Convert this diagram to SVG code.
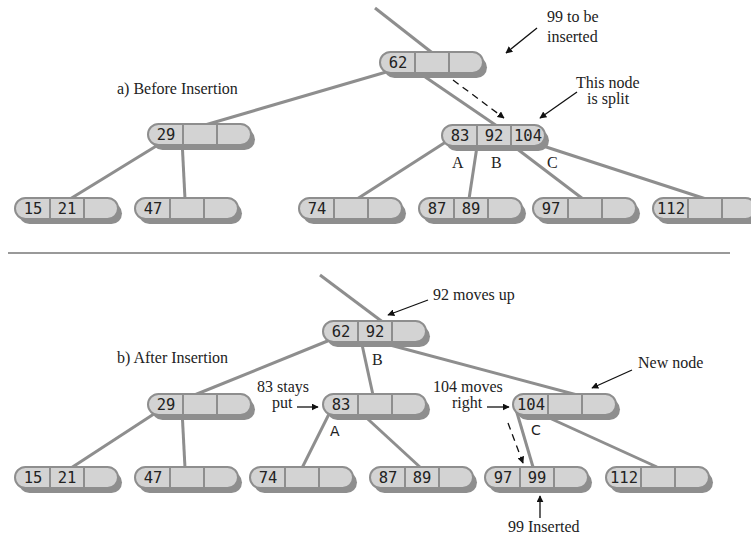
<svg xmlns="http://www.w3.org/2000/svg" xmlns:xlink="http://www.w3.org/1999/xlink" width="751" height="535" viewBox="0 0 751 535">
<style>
.shadow{fill:#8e8e8e}
.body{fill:#d3d3d3;stroke:#8e8e8e;stroke-width:2}
.div{stroke:#8e8e8e;stroke-width:2}
.key{font-family:"DejaVu Sans Mono",monospace;font-size:15.5px;fill:#222;text-anchor:middle}
.conn line{stroke:#8e8e8e;stroke-width:3;stroke-linecap:butt}
.anns line{stroke:#111;stroke-width:1.3;fill:none;marker-end:url(#ah)}
.anns line.dash{stroke-dasharray:7,5}
.lbl{font-family:"Liberation Serif","Times New Roman",serif;font-size:16px;fill:#222}
.sl{font-family:"DejaVu Sans",sans-serif;font-size:14px;fill:#222}
</style>
<defs>
<marker id="ah" viewBox="0 0 10 10" refX="9" refY="5" markerWidth="7" markerHeight="7" markerUnits="userSpaceOnUse" orient="auto">
<path d="M0,0 L10,5 L0,10 Z" fill="#111"/>
</marker>
<g id="pill">
<rect x="4" y="5" width="103" height="21" rx="10.5" class="shadow"/>
<rect x="0" y="0" width="103" height="21" rx="10.5" class="body"/>
<line x1="35" y1="0" x2="35" y2="21" class="div"/>
<line x1="69" y1="0" x2="69" y2="21" class="div"/>
</g>
</defs>
<rect width="751" height="535" fill="#fff"/>
<line x1="8" y1="253" x2="730" y2="253" stroke="#999" stroke-width="2"/>
<g id="connectors" class="conn">
<line x1="375" y1="8" x2="435" y2="55"/>
<line x1="400" y1="68" x2="205" y2="125"/>
<line x1="415" y1="70" x2="497" y2="126"/>
<line x1="166" y1="140" x2="70" y2="199"/>
<line x1="182" y1="140" x2="185" y2="199"/>
<line x1="452" y1="138" x2="357" y2="199"/>
<line x1="478" y1="140" x2="469" y2="199"/>
<line x1="512" y1="145" x2="583" y2="199"/>
<line x1="540" y1="145" x2="706" y2="199"/>
<line x1="320" y1="275" x2="384" y2="323"/>
<line x1="330" y1="340" x2="192" y2="396"/>
<line x1="361" y1="340" x2="373" y2="395"/>
<line x1="390" y1="345" x2="581" y2="396"/>
<line x1="160" y1="410" x2="71" y2="468"/>
<line x1="182" y1="410" x2="185" y2="468"/>
<line x1="332" y1="408" x2="302" y2="468"/>
<line x1="358" y1="410" x2="421" y2="468"/>
<line x1="515" y1="406" x2="533" y2="467"/>
<line x1="545" y1="416" x2="657" y2="467"/>
</g>
<g id="n62">
<use xlink:href="#pill" x="380" y="52"/>
<text class="key" x="398" y="68">62</text>
</g>
<g id="n29a">
<use xlink:href="#pill" x="148" y="124"/>
<text class="key" x="166" y="140">29</text>
</g>
<g id="n83_92_104">
<use xlink:href="#pill" x="442" y="125"/>
<text class="key" x="460" y="141">83</text>
<text class="key" x="494" y="141">92</text>
<text class="key" x="528" y="141">104</text>
</g>
<g id="n15_21a">
<use xlink:href="#pill" x="15" y="198"/>
<text class="key" x="33" y="214">15</text>
<text class="key" x="67" y="214">21</text>
</g>
<g id="n47a">
<use xlink:href="#pill" x="135" y="198"/>
<text class="key" x="153" y="214">47</text>
</g>
<g id="n74a">
<use xlink:href="#pill" x="299" y="198"/>
<text class="key" x="317" y="214">74</text>
</g>
<g id="n87_89a">
<use xlink:href="#pill" x="419" y="198"/>
<text class="key" x="437" y="214">87</text>
<text class="key" x="471" y="214">89</text>
</g>
<g id="n97a">
<use xlink:href="#pill" x="533" y="198"/>
<text class="key" x="551" y="214">97</text>
</g>
<g id="n112a">
<use xlink:href="#pill" x="653" y="198"/>
<text class="key" x="671" y="214">112</text>
</g>
<g id="n62_92">
<use xlink:href="#pill" x="323" y="321"/>
<text class="key" x="341" y="337">62</text>
<text class="key" x="375" y="337">92</text>
</g>
<g id="n29b">
<use xlink:href="#pill" x="148" y="394"/>
<text class="key" x="166" y="410">29</text>
</g>
<g id="n83b">
<use xlink:href="#pill" x="323" y="394"/>
<text class="key" x="341" y="410">83</text>
</g>
<g id="n104">
<use xlink:href="#pill" x="513" y="394"/>
<text class="key" x="531" y="410">104</text>
</g>
<g id="n15_21b">
<use xlink:href="#pill" x="15" y="467"/>
<text class="key" x="33" y="483">15</text>
<text class="key" x="67" y="483">21</text>
</g>
<g id="n47b">
<use xlink:href="#pill" x="135" y="467"/>
<text class="key" x="153" y="483">47</text>
</g>
<g id="n74b">
<use xlink:href="#pill" x="250" y="467"/>
<text class="key" x="268" y="483">74</text>
</g>
<g id="n87_89b">
<use xlink:href="#pill" x="370" y="467"/>
<text class="key" x="388" y="483">87</text>
<text class="key" x="422" y="483">89</text>
</g>
<g id="n97_99">
<use xlink:href="#pill" x="485" y="467"/>
<text class="key" x="503" y="483">97</text>
<text class="key" x="537" y="483">99</text>
</g>
<g id="n112b">
<use xlink:href="#pill" x="606" y="467"/>
<text class="key" x="624" y="483">112</text>
</g>
<g id="annotations" class="anns">
<line x1="537" y1="28" x2="506" y2="53"/>
<line x1="577" y1="92" x2="540" y2="118"/>
<line x1="453" y1="80" x2="504" y2="118" class="dash"/>
<line x1="428" y1="300" x2="388" y2="315"/>
<line x1="297" y1="407" x2="318" y2="407"/>
<line x1="487" y1="407" x2="509" y2="407"/>
<line x1="632" y1="370" x2="592" y2="388"/>
<line x1="508" y1="423" x2="523" y2="463" class="dash"/>
<line x1="540" y1="518" x2="540" y2="496"/>
</g>
<g id="labels">
<text class="lbl" x="547" y="22">99 to be</text>
<text class="lbl" x="547" y="42">inserted</text>
<text class="lbl" x="576" y="88">This node</text>
<text class="lbl" x="587" y="104">is split</text>
<text class="lbl" x="117" y="94">a) Before Insertion</text>
<text class="lbl" x="452" y="168">A</text>
<text class="lbl" x="491" y="168">B</text>
<text class="lbl" x="547" y="168">C</text>
<text class="lbl" x="433" y="300">92 moves up</text>
<text class="lbl" x="117" y="363">b) After Insertion</text>
<text class="lbl" x="372" y="365">B</text>
<text class="lbl" x="257" y="392">83 stays</text>
<text class="lbl" x="272" y="408">put</text>
<text class="lbl" x="433" y="392">104 moves</text>
<text class="lbl" x="452" y="408">right</text>
<text class="lbl" x="638" y="368">New node</text>
<text class="sl" x="330" y="436">A</text>
<text class="sl" x="531" y="435">C</text>
<text class="lbl" x="508" y="532">99 Inserted</text>
</g>
</svg>
